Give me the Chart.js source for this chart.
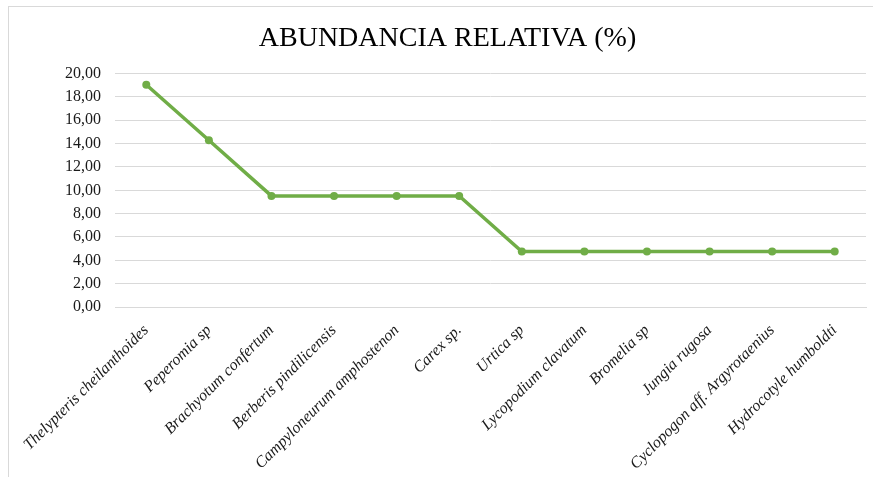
<!DOCTYPE html>
<html lang="es">
<head>
  <meta charset="UTF-8" />
  <title>Abundancia relativa</title>
  <script src="https://cdn.jsdelivr.net/npm/chart.js"></script>
  <style>
    html, body {
      margin: 0;
      padding: 0;
      background: #fff;
    }
    .frame {
      position: absolute;
      left: 8px;
      top: 6px;
      width: 900px;
      height: 500px;
      border-top: 1px solid #d9d9d9;
      border-left: 1px solid #d9d9d9;
    }
    .wrap {
      position: absolute;
      left: 0;
      top: 0;
      width: 873px;
      height: 477px;
    }
  </style>
</head>
<body>
  <div class="frame"></div>
  <div class="wrap"><canvas id="chart" width="873" height="477"></canvas></div>

  <script>
    const especies = [
      "Thelypteris cheilanthoides",
      "Peperomia sp",
      "Brachyotum confertum",
      "Berberis pindilicensis",
      "Campyloneurum amphostenon",
      "Carex sp.",
      "Urtica sp",
      "Lycopodium clavatum",
      "Bromelia sp",
      "Jungia rugosa",
      "Cyclopogon aff. Argyrotaenius",
      "Hydrocotyle humboldti"
    ];
    const abundancia = [19.05, 14.29, 9.52, 9.52, 9.52, 9.52, 4.76, 4.76, 4.76, 4.76, 4.76, 4.76];

    const serif = "'Liberation Serif', 'Times New Roman', serif";
    const verde = "#70AD47";

    new Chart(document.getElementById("chart"), {
      type: "line",
      data: {
        labels: especies,
        datasets: [{
          label: "Abundancia relativa (%)",
          data: abundancia,
          borderColor: verde,
          backgroundColor: verde,
          borderWidth: 3.5,
          pointRadius: 4,
          pointHoverRadius: 4,
          pointBorderWidth: 0,
          pointBackgroundColor: verde,
          tension: 0
        }]
      },
      options: {
        responsive: false,
        animation: false,
        // left padding also pushes the title centre a little to the right
        layout: { padding: { left: 29, right: 7, top: 0, bottom: 0 } },
        plugins: {
          legend: { display: false },
          tooltip: { enabled: false },
          title: {
            display: true,
            text: "ABUNDANCIA RELATIVA (%)",
            color: "#000",
            font: { family: serif, size: 28, weight: "normal" },
            padding: { top: 22, bottom: 18 }
          }
        },
        scales: {
          x: {
            offset: true,
            grid: { display: false },
            border: { display: true, color: "#d9d9d9", width: 1 },
            ticks: {
              autoSkip: false,
              maxRotation: 45,
              minRotation: 45,
              padding: 6,
              color: "#1a1a1a",
              font: { family: serif, size: 16, style: "italic" }
            },
            afterFit(scale) { scale.height = 170; }
          },
          y: {
            min: 0,
            max: 20,
            grid: { color: "#d9d9d9", lineWidth: 1, drawTicks: false },
            border: { display: false },
            ticks: {
              stepSize: 2,
              padding: 14,
              color: "#1a1a1a",
              font: { family: serif, size: 16 },
              callback: v => v.toFixed(2).replace(".", ",")
            },
            afterFit(scale) { scale.width = 86; }
          }
        }
      }
    });
  </script>
</body>
</html>
